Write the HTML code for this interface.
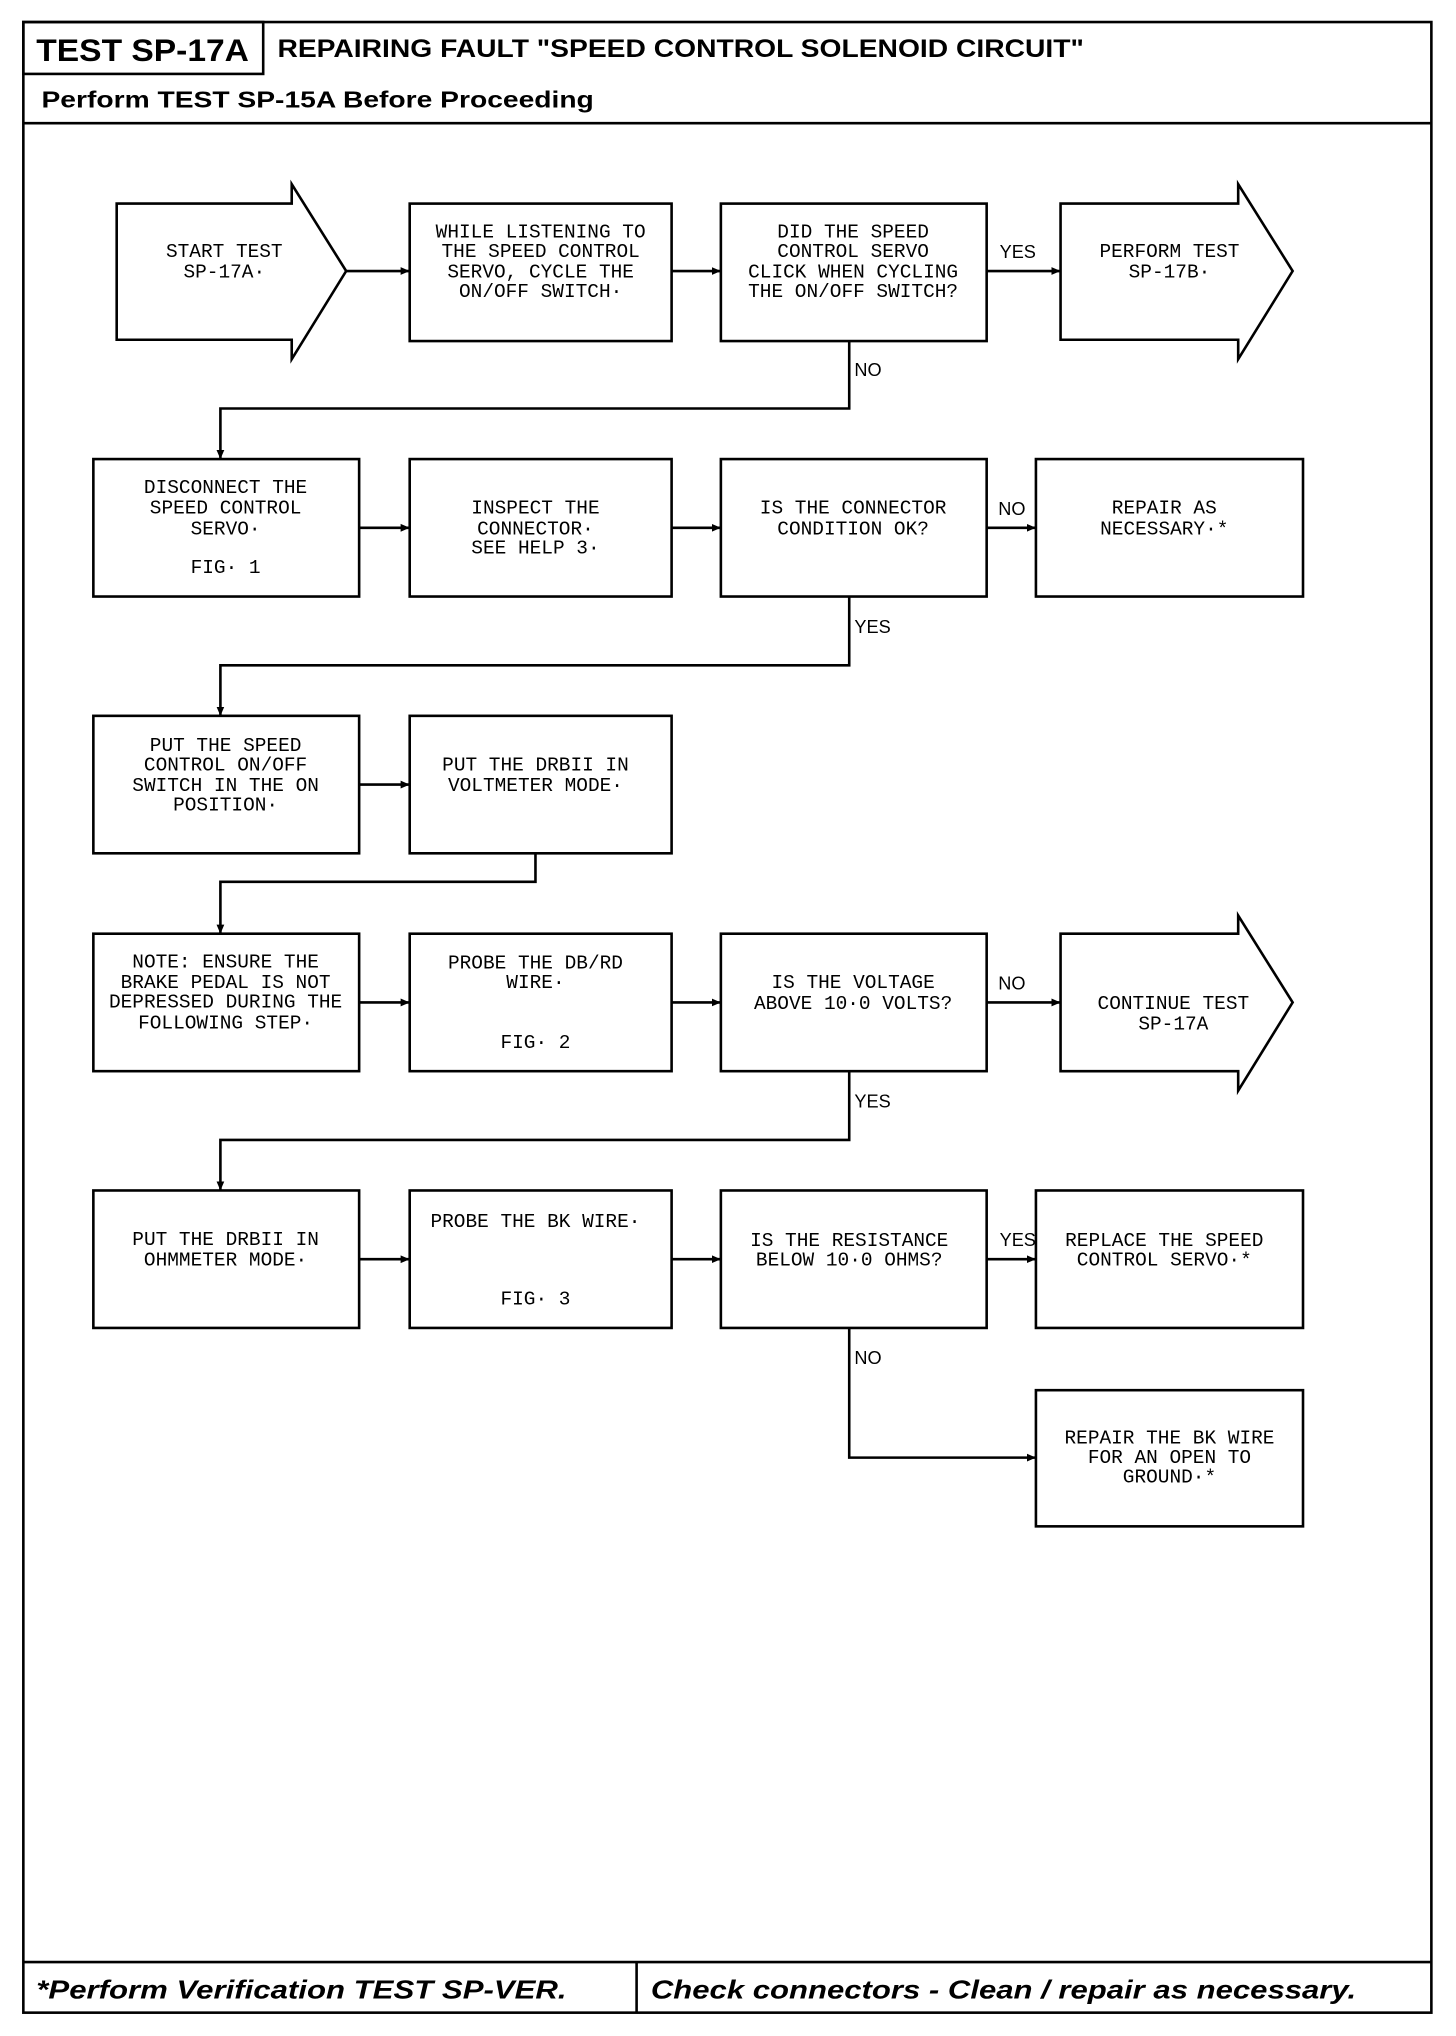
<!DOCTYPE html>
<html><head><meta charset="utf-8"><style>
html,body{margin:0;padding:0;background:#fff;}
svg{display:block;}
.t{font-family:"Liberation Mono",monospace;font-size:15px;fill:#000;text-anchor:middle;}
.l{font-family:"Liberation Sans",sans-serif;font-size:14px;fill:#000;}
.b{fill:#fff;stroke:#000;stroke-width:2;}
.c{fill:none;stroke:#000;stroke-width:2;}
</style></head><body>
<svg width="1456" height="2036" viewBox="0 0 1123 1570" preserveAspectRatio="none" xmlns="http://www.w3.org/2000/svg">
<defs><marker id="a" markerWidth="8" markerHeight="8" refX="7" refY="4" orient="auto" markerUnits="userSpaceOnUse"><path d="M0,1 L7,4 L0,7 z" fill="#000"/></marker></defs>
<rect x="18" y="17" width="1086" height="1535" class="c"/>
<rect x="18" y="17" width="185" height="40" class="c"/>
<line x1="18" y1="95" x2="1104" y2="95" class="c"/>
<line x1="18" y1="1513" x2="1104" y2="1513" class="c"/>
<line x1="491" y1="1513" x2="491" y2="1552" class="c"/>
<text x="28" y="47" textLength="164" lengthAdjust="spacingAndGlyphs" style="font-family:'Liberation Sans',sans-serif;font-weight:bold;font-size:24px">TEST SP-17A</text>
<text x="214" y="44" textLength="622" lengthAdjust="spacingAndGlyphs" style="font-family:'Liberation Sans',sans-serif;font-weight:bold;font-size:19px">REPAIRING FAULT "SPEED CONTROL SOLENOID CIRCUIT"</text>
<text x="32" y="83" textLength="426" lengthAdjust="spacingAndGlyphs" style="font-family:'Liberation Sans',sans-serif;font-weight:bold;font-size:18px">Perform TEST SP-15A Before Proceeding</text>
<text x="28" y="1541" textLength="409" lengthAdjust="spacingAndGlyphs" style="font-family:'Liberation Sans',sans-serif;font-weight:bold;font-style:italic;font-size:20px">*Perform Verification TEST SP-VER.</text>
<text x="502" y="1541" textLength="544" lengthAdjust="spacingAndGlyphs" style="font-family:'Liberation Sans',sans-serif;font-weight:bold;font-style:italic;font-size:20px">Check connectors - Clean / repair as necessary.</text>

<!-- row 1 -->
<path d="M90,157 L225,157 L225,142 L267,209 L225,277 L225,262 L90,262 Z" class="b"/>
<text class="t" x="173" y="198">START TEST</text><text class="t" x="173" y="214">SP-17A·</text>
<rect x="316" y="157" width="202" height="106" class="b"/>
<text class="t" x="417" y="183">WHILE LISTENING TO</text><text class="t" x="417" y="198">THE SPEED CONTROL</text><text class="t" x="417" y="214">SERVO, CYCLE THE</text><text class="t" x="417" y="229">ON/OFF SWITCH·</text>
<rect x="556" y="157" width="205" height="106" class="b"/>
<text class="t" x="658" y="183">DID THE SPEED</text><text class="t" x="658" y="198">CONTROL SERVO</text><text class="t" x="658" y="214">CLICK WHEN CYCLING</text><text class="t" x="658" y="229">THE ON/OFF SWITCH?</text>
<path d="M818,157 L955,157 L955,142 L997,209 L955,277 L955,262 L818,262 Z" class="b"/>
<text class="t" x="902" y="198">PERFORM TEST</text><text class="t" x="902" y="214">SP-17B·</text>
<line x1="267" y1="209" x2="316" y2="209" class="c" marker-end="url(#a)"/>
<line x1="518" y1="209" x2="556" y2="209" class="c" marker-end="url(#a)"/>
<line x1="761" y1="209" x2="818" y2="209" class="c" marker-end="url(#a)"/>
<text class="l" x="771" y="199">YES</text>
<polyline points="655,263 655,315 170,315 170,354" class="c" marker-end="url(#a)"/>
<text class="l" x="659" y="290">NO</text>

<!-- row 2 -->
<rect x="72" y="354" width="205" height="106" class="b"/>
<text class="t" x="174" y="380">DISCONNECT THE</text><text class="t" x="174" y="396">SPEED CONTROL</text><text class="t" x="174" y="412">SERVO·</text><text class="t" x="174" y="442">FIG· 1</text>
<rect x="316" y="354" width="202" height="106" class="b"/>
<text class="t" x="413" y="396">INSPECT THE</text><text class="t" x="413" y="412">CONNECTOR·</text><text class="t" x="413" y="427">SEE HELP 3·</text>
<rect x="556" y="354" width="205" height="106" class="b"/>
<text class="t" x="658" y="396">IS THE CONNECTOR</text><text class="t" x="658" y="412">CONDITION OK?</text>
<rect x="799" y="354" width="206" height="106" class="b"/>
<text class="t" x="898" y="396">REPAIR AS</text><text class="t" x="898" y="412">NECESSARY·*</text>
<line x1="277" y1="407" x2="316" y2="407" class="c" marker-end="url(#a)"/>
<line x1="518" y1="407" x2="556" y2="407" class="c" marker-end="url(#a)"/>
<line x1="761" y1="407" x2="799" y2="407" class="c" marker-end="url(#a)"/>
<text class="l" x="770" y="397">NO</text>
<polyline points="655,460 655,513 170,513 170,552" class="c" marker-end="url(#a)"/>
<text class="l" x="659" y="488">YES</text>

<!-- row 3 -->
<rect x="72" y="552" width="205" height="106" class="b"/>
<text class="t" x="174" y="579">PUT THE SPEED</text><text class="t" x="174" y="594">CONTROL ON/OFF</text><text class="t" x="174" y="610">SWITCH IN THE ON</text><text class="t" x="174" y="625">POSITION·</text>
<rect x="316" y="552" width="202" height="106" class="b"/>
<text class="t" x="413" y="594">PUT THE DRBII IN</text><text class="t" x="413" y="610">VOLTMETER MODE·</text>
<line x1="277" y1="605" x2="316" y2="605" class="c" marker-end="url(#a)"/>
<polyline points="413,658 413,680 170,680 170,720" class="c" marker-end="url(#a)"/>

<!-- row 4 -->
<rect x="72" y="720" width="205" height="106" class="b"/>
<text class="t" x="174" y="746">NOTE:  ENSURE THE</text><text class="t" x="174" y="762">BRAKE PEDAL IS NOT</text><text class="t" x="174" y="777">DEPRESSED DURING THE</text><text class="t" x="174" y="793">FOLLOWING STEP·</text>
<rect x="316" y="720" width="202" height="106" class="b"/>
<text class="t" x="413" y="747">PROBE THE DB/RD</text><text class="t" x="413" y="762">WIRE·</text><text class="t" x="413" y="808">FIG· 2</text>
<rect x="556" y="720" width="205" height="106" class="b"/>
<text class="t" x="658" y="762">IS THE VOLTAGE</text><text class="t" x="658" y="778">ABOVE 10·0 VOLTS?</text>
<path d="M818,720 L955,720 L955,706 L997,773 L955,841 L955,826 L818,826 Z" class="b"/>
<text class="t" x="905" y="778">CONTINUE TEST</text><text class="t" x="905" y="794">SP-17A</text>
<line x1="277" y1="773" x2="316" y2="773" class="c" marker-end="url(#a)"/>
<line x1="518" y1="773" x2="556" y2="773" class="c" marker-end="url(#a)"/>
<line x1="761" y1="773" x2="818" y2="773" class="c" marker-end="url(#a)"/>
<text class="l" x="770" y="763">NO</text>
<polyline points="655,826 655,879 170,879 170,918" class="c" marker-end="url(#a)"/>
<text class="l" x="659" y="854">YES</text>

<!-- row 5 -->
<rect x="72" y="918" width="205" height="106" class="b"/>
<text class="t" x="174" y="960">PUT THE DRBII IN</text><text class="t" x="174" y="976">OHMMETER MODE·</text>
<rect x="316" y="918" width="202" height="106" class="b"/>
<text class="t" x="413" y="946">PROBE THE BK WIRE·</text><text class="t" x="413" y="1006">FIG· 3</text>
<rect x="556" y="918" width="205" height="106" class="b"/>
<text class="t" x="655" y="961">IS THE RESISTANCE</text><text class="t" x="655" y="976">BELOW 10·0 OHMS?</text>
<rect x="799" y="918" width="206" height="106" class="b"/>
<text class="t" x="898" y="961">REPLACE THE SPEED</text><text class="t" x="898" y="976">CONTROL SERVO·*</text>
<line x1="277" y1="971" x2="316" y2="971" class="c" marker-end="url(#a)"/>
<line x1="518" y1="971" x2="556" y2="971" class="c" marker-end="url(#a)"/>
<line x1="761" y1="971" x2="799" y2="971" class="c" marker-end="url(#a)"/>
<text class="l" x="771" y="961">YES</text>
<polyline points="655,1024 655,1124 799,1124" class="c" marker-end="url(#a)"/>
<text class="l" x="659" y="1052">NO</text>
<rect x="799" y="1072" width="206" height="105" class="b"/>
<text class="t" x="902" y="1113">REPAIR THE BK WIRE</text><text class="t" x="902" y="1128">FOR AN OPEN TO</text><text class="t" x="902" y="1143">GROUND·*</text>
</svg>
</body></html>
